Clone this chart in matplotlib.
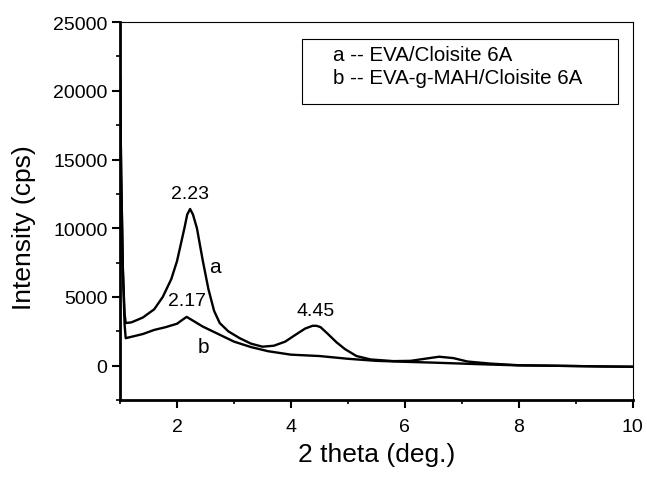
import matplotlib
matplotlib.use("Agg")
import matplotlib.pyplot as plt
from matplotlib.patches import Rectangle
from matplotlib.ticker import MultipleLocator

plt.rcParams['font.family'] = ['Liberation Sans', 'DejaVu Sans']

# curve a: EVA/Cloisite 6A
x_a = [1.0, 1.02, 1.05, 1.08, 1.1, 1.2, 1.4, 1.6, 1.75, 1.9, 2.0, 2.13, 2.18, 2.23, 2.28,
       2.35, 2.45, 2.55, 2.65, 2.75, 2.9, 3.1, 3.3, 3.5, 3.7, 3.9, 4.1, 4.25, 4.38, 4.45,
       4.52, 4.65, 4.8, 4.95, 5.15, 5.4, 5.8, 6.1, 6.35, 6.6, 6.85, 7.1, 7.5, 8.0, 8.5,
       9.0, 9.5, 10.0]
y_a = [21000, 14000, 7000, 3800, 3100, 3150, 3500, 4100, 5000, 6300, 7600, 10000, 11000,
       11400, 11000, 10000, 7700, 5600, 4000, 3100, 2500, 2000, 1600, 1380, 1450, 1750,
       2300, 2700, 2900, 2900, 2800, 2300, 1700, 1200, 700, 450, 330, 350, 500, 650, 550,
       300, 150, 30, 0, -30, -60, -80]

# curve b: EVA-g-MAH/Cloisite 6A
x_b = [1.0, 1.02, 1.05, 1.08, 1.1, 1.2, 1.4, 1.6, 1.8, 2.0, 2.1, 2.17, 2.25, 2.35, 2.45,
       2.6, 2.8, 3.0, 3.3, 3.6, 4.0, 4.5, 5.0, 5.5, 6.0, 6.5, 7.0, 7.5, 8.0, 8.5, 9.0,
       9.5, 10.0]
y_b = [21000, 14000, 7000, 3000, 2000, 2100, 2300, 2600, 2800, 3050, 3350, 3550, 3350,
       3100, 2850, 2550, 2150, 1750, 1350, 1050, 800, 700, 500, 350, 280, 220, 150, 80,
       20, 0, -30, -60, -80]

# peak labels
peaks = [(2.23, 11900, '2.23'), (2.17, 4150, '2.17'), (4.43, 3400, '4.45')]
curve_tags = [(2.67, 7200, 'a'), (2.47, 1400, 'b')]
legend_lines = ['a -- EVA/Cloisite 6A', 'b -- EVA-g-MAH/Cloisite 6A']

fig = plt.figure(figsize=(6.47, 4.81), dpi=100)
ax = fig.add_axes([0.1855, 0.1663, 0.7925, 0.7857])

ax.plot(x_a, y_a, color='black', lw=1.7)
ax.plot(x_b, y_b, color='black', lw=1.7)

for x, y, s in peaks:
    ax.text(x, y, s, ha='center', va='bottom', fontsize=14)
for x, y, s in curve_tags:
    ax.text(x, y, s, ha='center', va='center', fontsize=15)

ax.add_patch(Rectangle((0.355, 0.783), 0.616, 0.172, transform=ax.transAxes,
                       fill=False, lw=0.8, ec='black'))
ax.text(0.415, 0.915, legend_lines[0], transform=ax.transAxes, va='center', fontsize=14.8)
ax.text(0.415, 0.854, legend_lines[1], transform=ax.transAxes, va='center', fontsize=14.8)

ax.set_xlim(1, 10)
ax.set_ylim(-2500, 25000)
ax.xaxis.set_major_locator(MultipleLocator(2))
ax.xaxis.set_minor_locator(MultipleLocator(1))
ax.yaxis.set_major_locator(MultipleLocator(5000))
ax.yaxis.set_minor_locator(MultipleLocator(2500))
ax.tick_params(which='major', direction='out', length=6, width=1.5, labelsize=14)
ax.tick_params(which='minor', direction='out', length=3, width=1.2)
ax.tick_params(axis='x', which='major', pad=7)
ax.tick_params(axis='y', which='major', pad=3)
ax.tick_params(top=False, right=False)

ax.spines['left'].set_linewidth(2)
ax.spines['bottom'].set_linewidth(2)
ax.spines['top'].set_linewidth(0.8)
ax.spines['right'].set_linewidth(0.8)

ax.set_xlabel('2 theta (deg.)', fontsize=19)
ax.set_ylabel('Intensity (cps)', fontsize=19)
ax.xaxis.set_label_coords(0.5, -0.11)
ax.yaxis.set_label_coords(-0.164, 0.458)

fig.savefig('out.png', dpi=100)
